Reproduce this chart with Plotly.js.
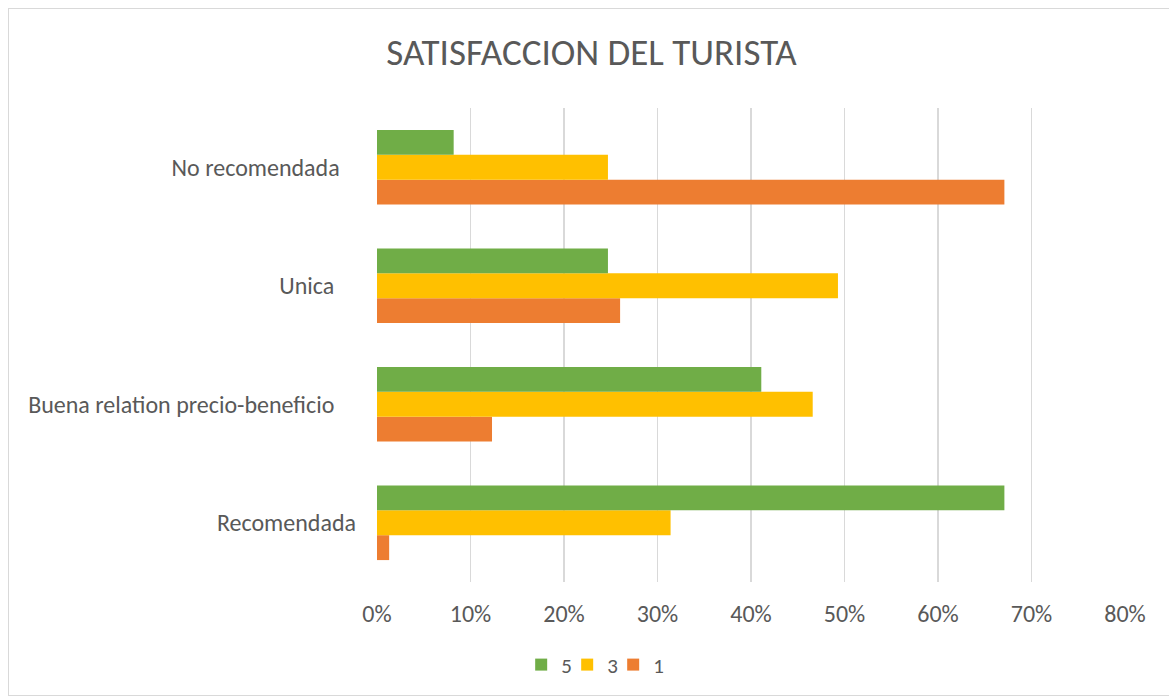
<!DOCTYPE html>
<html>
<head>
<meta charset="utf-8">
<script src="https://cdn.plot.ly/plotly-3.0.1.min.js"></script>
<style>
  html, body { margin: 0; padding: 0; background: #fff; }
  #wrap { position: relative; width: 1169px; height: 699px; overflow: hidden; }
  #frame { position: absolute; left: 8px; top: 8px; width: 1170px; height: 688px; border: 1px solid #D9D9D9; box-sizing: border-box; pointer-events: none; }
  #chart { position: absolute; left: 0; top: 0; width: 1169px; height: 699px; }
</style>
</head>
<body>
<div id="wrap">
  <div id="chart"></div>
  <div id="frame"></div>
</div>
<script>
// Categories (bottom to top)
const categories = [
  "Recomendada",
  "Buena relation precio-beneficio\u00a0\u00a0\u00a0\u00a0",
  "Unica\u00a0\u00a0\u00a0\u00a0",
  "No recomendada\u00a0\u00a0\u00a0"
];
// Series values (fractions)
const serie1 = [0.013, 0.123, 0.260, 0.671];
const serie3 = [0.314, 0.466, 0.493, 0.247];
const serie5 = [0.671, 0.411, 0.247, 0.082];
const seriesNames = ["1", "3", "5"];
const tickVals = [0, 0.1, 0.2, 0.3, 0.4, 0.5, 0.6, 0.7, 0.8];
const tickText = ["0%", "10%", "20%", "30%", "40%", "50%", "60%", "70%", "80%"];

const colors = { "1": "#ED7D31", "3": "#FFC000", "5": "#70AD47" };
const FONT = "Calibri, Carlito, Lato, 'Open Sans', sans-serif";

const data = [
  { type: "bar", orientation: "h", name: seriesNames[0], y: categories, x: serie1, marker: { color: colors["1"] }, hoverinfo: "x+name" },
  { type: "bar", orientation: "h", name: seriesNames[1], y: categories, x: serie3, marker: { color: colors["3"] }, hoverinfo: "x+name" },
  { type: "bar", orientation: "h", name: seriesNames[2], y: categories, x: serie5, marker: { color: colors["5"] }, hoverinfo: "x+name" }
];

const layout = {
  width: 1169, height: 699,
  margin: { l: 377, r: 44, t: 108, b: 117 },
  paper_bgcolor: "rgba(0,0,0,0)",
  plot_bgcolor: "rgba(0,0,0,0)",
  font: { family: FONT, color: "#595959", size: 24 },
  title: { text: "SATISFACCION DEL TURISTA", font: { size: 37, color: "#595959", family: FONT }, x: 0.506, xanchor: "center", xref: "container", y: 0.925, yanchor: "middle" },
  barmode: "group",
  bargap: 0.37,
  bargroupgap: 0,
  xaxis: {
    range: [0, 0.8],
    tickvals: tickVals, ticktext: tickText,
    showgrid: true, gridcolor: "#D9D9D9", gridwidth: 1.5,
    zeroline: false, showline: false,
    ticks: "", ticklen: 0,
    ticklabelstandoff: 15,
    tickfont: { size: 24, color: "#595959" },
    fixedrange: true
  },
  yaxis: {
    type: "category",
    categoryorder: "array", categoryarray: categories,
    showgrid: false, zeroline: false, showline: false,
    ticks: "", ticklen: 0,
    ticklabelstandoff: 20,
    tickfont: { size: 24, color: "#595959" },
    automargin: false,
    fixedrange: true
  },
  showlegend: true,
  legend: {
    orientation: "h", traceorder: "reversed",
    x: 0.285, xanchor: "center", y: -0.175, yanchor: "middle",
    font: { size: 21, color: "#595959" },
    itemwidth: 30,
    entrywidth: 1, entrywidthmode: "pixels"
  }
};

Plotly.newPlot("chart", data, layout, { displayModeBar: false, staticPlot: true }).then(function (gd) {
  // let the last legend label show beyond the narrow entry width
  gd.querySelectorAll(".legend .scrollbox, .legend").forEach(function (el) { el.removeAttribute("clip-path"); });
});
</script>
</body>
</html>
